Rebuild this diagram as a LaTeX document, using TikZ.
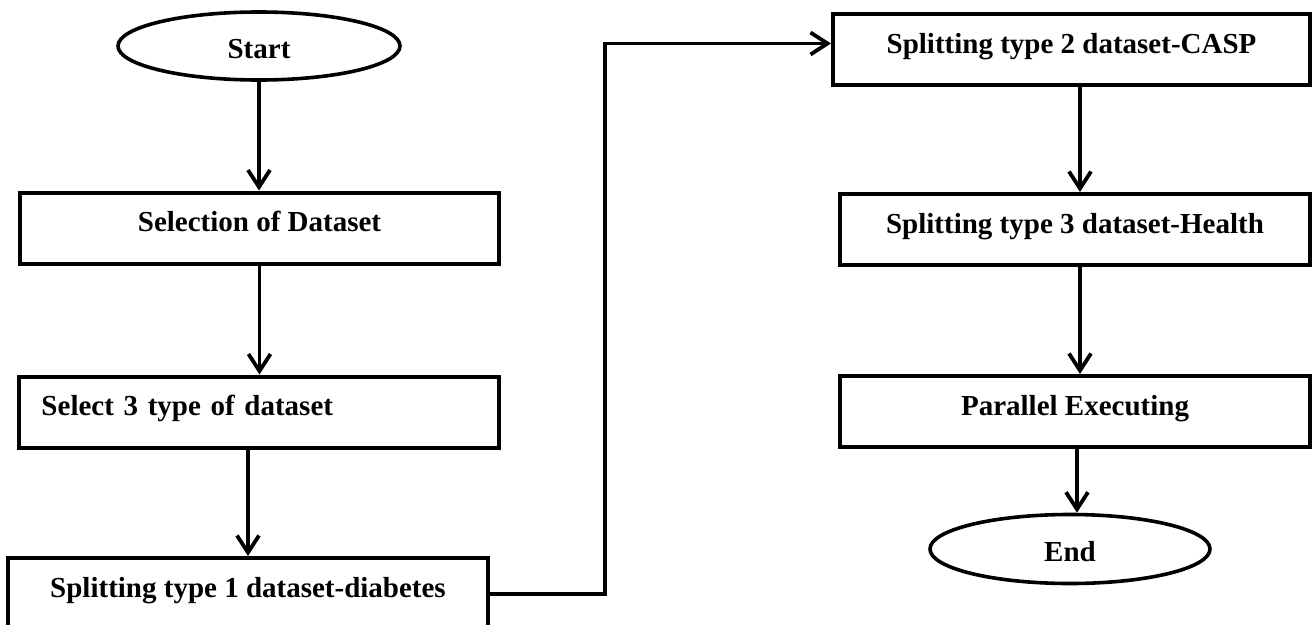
\documentclass[tikz,border=0pt]{standalone}
\usepackage{fontspec}
\setmainfont{Liberation Serif}
\usetikzlibrary{arrows.meta,shapes.geometric,calc}
\begin{document}
\begin{tikzpicture}[x=1pt,y=-1pt,
  box/.style={draw, line width=4pt, rectangle, inner sep=0pt, minimum height=71pt,
    text height=20pt, text depth=13pt, font=\fontsize{29}{34}\selectfont\bfseries},
  oval/.style={draw, line width=3.6pt, ellipse, inner sep=0pt,
    text height=24pt, text depth=0pt, font=\fontsize{29}{34}\selectfont\bfseries},
  arr/.style={line width=3.8pt, -{Straight Barb[length=17pt,width=22pt,line width=3.8pt]}}]
\useasboundingbox (0,0) rectangle (1312,624);

\node[oval, minimum width=282pt, minimum height=68pt] (start) at (259,46) {Start};
\node[box, minimum width=479pt] (sel) at (259.5,228) {Selection of Dataset};
\node[box, minimum width=480pt, text width=434pt, align=left, inner xsep=23pt] (sel3) at (258.5,412) {Select 3 type of dataset};
\node[box, minimum width=480pt, minimum height=72pt] (sp1) at (248,594) {Splitting type 1 dataset-diabetes};
\node[box, minimum width=477pt] (sp2) at (1071.5,49.5) {Splitting type 2 dataset-CASP};
\node[box, minimum width=470pt] (sp3) at (1075,229.5) {Splitting type 3 dataset-Health};
\node[box, minimum width=470pt] (par) at (1075,411.5) {Parallel Executing};
\node[oval, minimum width=280pt, minimum height=69pt] (end) at (1070,549) {End};

\draw[arr] (start.south) -- (start.south |- sel.north);
\draw[arr] (sel.south) -- (sel.south |- sel3.north);
\draw[arr] (sel3.south -| sp1.north) -- (sp1.north);

\coordinate (bend) at (605,300);
\draw[arr] (sp1.east) -| (bend) |- ([yshift=6pt]sp2.west);

\coordinate (rx) at (1080,0);
\coordinate (rx2) at (1077,0);
\draw[arr] (sp2.south -| rx) -- (sp3.north -| rx);
\draw[arr] (sp3.south -| rx) -- (par.north -| rx);
\draw[arr] (par.south -| rx2) -- (end.north -| rx2);
\end{tikzpicture}
\end{document}
